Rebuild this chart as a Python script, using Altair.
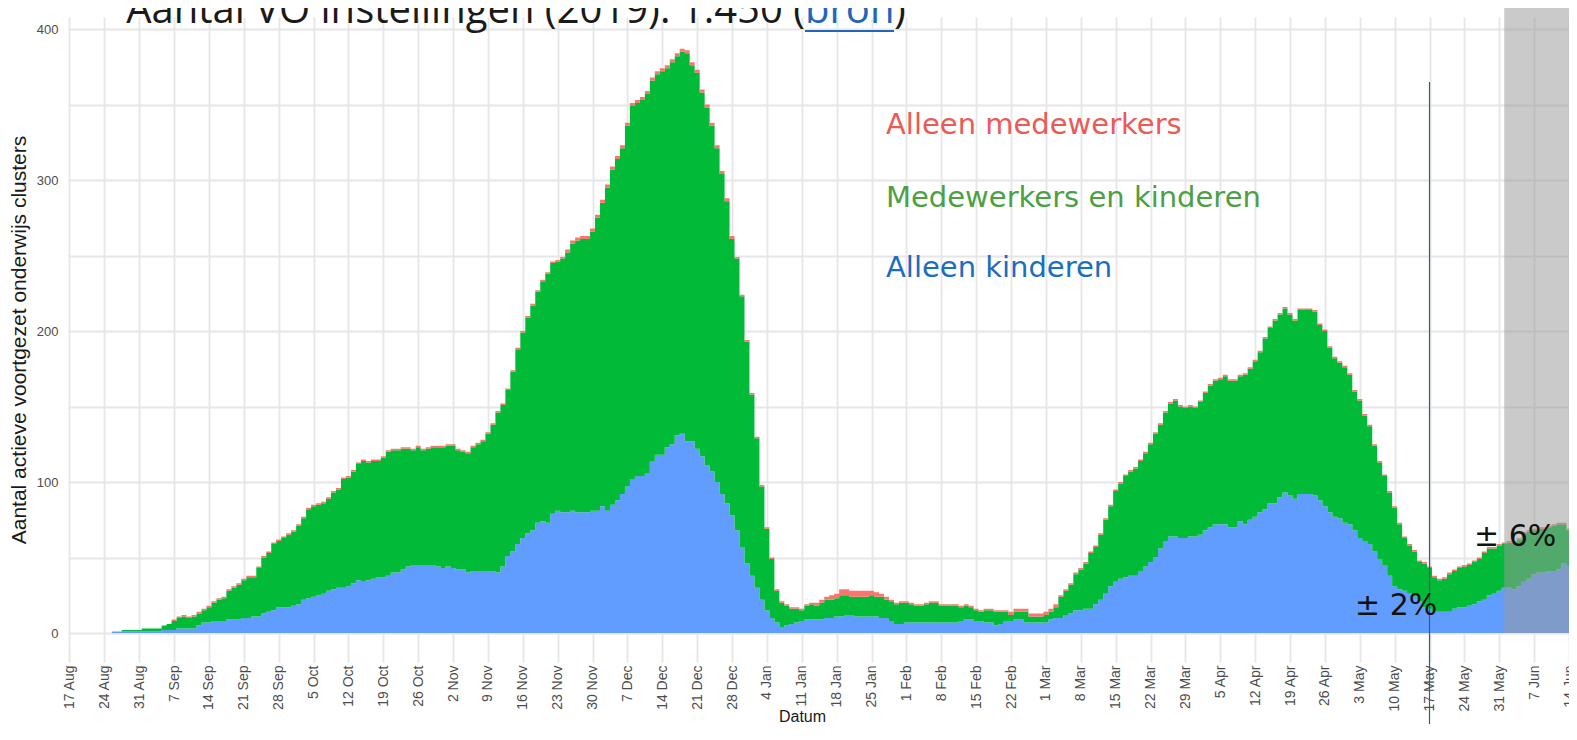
import altair as alt
import pandas as pd

# ---------------- data ----------------
START = "2020-08-26"   # first day with clusters; one value per day

# Alleen kinderen (blue)
kinderen = (
    [1, 1, 1, 1, 1, 1] +                                            # Aug 26-31
    [1, 1, 1, 1, 2, 2, 2, 3, 3, 3, 3, 5, 7, 7, 8, 8, 8, 9, 9, 9,
     10, 10, 11, 11, 13, 14, 15, 17, 17, 17] +                      # Sep
    [18, 19, 22, 23, 24, 25, 26, 28, 29, 30, 30, 31, 33, 35, 34, 35, 36, 37, 37, 38,
     40, 40, 42, 44, 45, 45, 45, 45, 45, 44, 43] +                  # Oct
    [44, 43, 42, 42, 40, 41, 41, 41, 41, 41, 40, 44, 51, 54, 59, 63, 66, 68, 73, 74,
     73, 79, 81, 80, 80, 81, 80, 80, 80, 81] +                      # Nov
    [81, 84, 81, 85, 88, 92, 97, 102, 104, 104, 106, 114, 118, 118, 123, 125, 131, 132, 127, 127,
     122, 117, 111, 107, 100, 92, 86, 78, 68, 57, 46] +             # Dec
    [38, 30, 22, 15, 10, 7, 4, 5, 6, 7, 8, 9, 9, 9, 9, 10, 10, 11, 11, 12,
     12, 11, 11, 11, 11, 11, 10, 10, 8, 6, 6] +                     # Jan
    [7, 7, 7, 7, 7, 7, 7, 7, 7, 7, 7, 8, 9, 9, 8, 8, 7, 7, 5, 6,
     8, 8, 9, 9, 7, 7, 7, 7] +                                      # Feb
    [7, 9, 10, 10, 12, 13, 15, 15, 16, 16, 19, 22, 26, 31, 34, 36, 37, 38, 38, 41,
     44, 47, 50, 56, 61, 64, 64, 63, 63, 64, 64] +                  # Mar
    [65, 68, 70, 72, 72, 72, 70, 70, 74, 72, 75, 77, 80, 82, 86, 86, 90, 93, 91, 89,
     92, 92, 92, 91, 88, 84, 80, 77, 76, 73] +                      # Apr
    [72, 68, 63, 61, 59, 54, 49, 45, 38, 31, 29, 28, 26, 24, 21, 17, 16, 14, 14, 14,
     14, 16, 17, 17, 18, 19, 21, 22, 25, 26, 28] +                  # May
    [30, 30, 29, 31, 34, 36, 39, 40, 40, 41, 41, 42, 46, 44, 40]    # Jun 1-15
)

# Medewerkers en kinderen (green)
beide = (
    [0, 0, 1, 1, 1, 1] +
    [2, 2, 2, 2, 3, 4, 6, 7, 8, 7, 8, 8, 8, 10, 12, 14, 15, 19, 21, 23,
     25, 27, 26, 32, 37, 39, 44, 44, 46, 48] +
    [49, 52, 54, 59, 60, 60, 60, 61, 64, 65, 72, 72, 74, 77, 80, 78, 78, 77, 79, 82,
     81, 81, 80, 78, 76, 78, 76, 77, 78, 79, 80] +
    [80, 81, 79, 78, 79, 82, 84, 86, 91, 97, 106, 107, 110, 119, 129, 136, 143, 149, 153, 159,
     165, 166, 165, 168, 172, 177, 180, 181, 181, 185] +
    [194, 201, 214, 222, 226, 229, 239, 247, 247, 249, 251, 252, 252, 254, 251, 253, 251, 253, 257, 249,
     249, 241, 237, 229, 221, 212, 200, 183, 180, 166, 147] +
    [120, 99, 75, 54, 39, 21, 16, 13, 10, 9, 7, 9, 10, 9, 11, 12, 12, 12, 14, 13,
     12, 13, 13, 13, 14, 13, 14, 12, 13, 13, 14] +
    [13, 12, 11, 11, 12, 13, 13, 11, 11, 11, 11, 9, 9, 8, 7, 6, 8, 8, 9, 8,
     6, 4, 5, 5, 7, 4, 4, 4] +
    [5, 5, 7, 14, 16, 19, 24, 27, 30, 37, 38, 43, 49, 53, 60, 63, 67, 69, 71, 73,
     75, 78, 82, 82, 85, 88, 90, 87, 86, 86, 85] +
    [88, 91, 94, 95, 96, 98, 97, 97, 96, 99, 100, 103, 106, 113, 116, 121, 121, 122, 120, 118,
     122, 122, 122, 122, 116, 116, 109, 105, 103, 103] +
    [99, 92, 91, 83, 78, 70, 64, 59, 55, 52, 43, 35, 32, 30, 26, 29, 27, 23, 21, 22,
     25, 25, 26, 27, 27, 28, 28, 31, 31, 30, 30] +
    [29, 30, 31, 31, 32, 31, 29, 29, 29, 29, 30, 30, 26, 24, 26]
)

# Alleen medewerkers (red)
medewerkers = (
    [0, 0, 0, 0, 0, 0] +
    [0, 0, 0, 0, 0, 0, 1, 1, 1, 1, 1, 1, 1, 1, 1, 1, 1, 1, 1, 1,
     1, 1, 1, 1, 1, 1, 1, 1, 1, 1] +
    [1, 1, 1, 1, 1, 1, 1, 1, 1, 1, 1, 1, 1, 1, 1, 1, 1, 1, 1, 1,
     1, 1, 1, 1, 1, 1, 1, 1, 1, 1, 1] +
    [1, 1, 1, 1, 1, 1, 1, 1, 1, 1, 1, 1, 1, 1, 1, 1, 1, 1, 1, 1,
     1, 1, 1, 1, 2, 2, 2, 2, 2, 2] +
    [2, 2, 2, 2, 2, 2, 2, 2, 2, 2, 2, 2, 2, 2, 2, 2, 2, 2, 2, 2,
     2, 2, 2, 2, 2, 2, 2, 2, 1, 1, 1] +
    [1, 1, 1, 1, 1, 1, 1, 1, 1, 1, 1, 1, 1, 2, 2, 2, 3, 3, 4, 4,
     4, 4, 4, 4, 3, 3, 2, 2, 1, 1, 1] +
    [1, 1, 1, 1, 1, 1, 1, 1, 1, 1, 1, 1, 1, 1, 1, 1, 1, 1, 1, 1,
     1, 2, 2, 2, 2, 2, 2, 2] +
    [2, 2, 2, 1, 1, 1, 1, 1, 1, 1, 1, 1, 1, 1, 1, 1, 1, 1, 1, 1,
     1, 1, 1, 1, 1, 1, 1, 1, 1, 1, 1] +
    [1, 1, 1, 1, 1, 1, 1, 1, 1, 1, 1, 1, 1, 1, 1, 1, 1, 1, 1, 1,
     1, 1, 1, 1, 1, 1, 1, 1, 1, 1] +
    [1, 1, 1, 1, 1, 1, 1, 1, 1, 1, 1, 1, 1, 1, 1, 1, 1, 1, 1, 1,
     1, 1, 1, 1, 1, 1, 1, 1, 1, 1, 1] +
    [1, 1, 1, 1, 1, 1, 1, 1, 1, 1, 1, 1, 1, 1, 1]
)

reeksen = ["Alleen kinderen", "Medewerkers en kinderen", "Alleen medewerkers"]
kleuren = ["#619CFF", "#00BA38", "#F8766D"]

TICK_START = "2020-08-17"   # weekly date ticks (Mondays)
TICK_END = "2021-06-14"

# ---------------- build table ----------------
n = len(kinderen)
assert len(beide) == n and len(medewerkers) == n, (n, len(beide), len(medewerkers))
dagen = pd.date_range(START, periods=n, freq="D")

rows = []
for k, (naam, waarden) in enumerate(zip(reeksen, [kinderen, beide, medewerkers])):
    for d, v in zip(dagen, waarden):
        # each day's bar spans from half a day before to half a day after the date
        rows.append({"x": d - pd.Timedelta(hours=12), "reeks": naam, "k": k, "aantal": v})
df = pd.DataFrame(rows)

ticks = pd.date_range(TICK_START, TICK_END, freq="7D")
tick_vals = [alt.DateTime(year=t.year, month=t.month, date=t.day) for t in ticks]

W, H = 1501, 645
xscale = alt.Scale(domain=[alt.DateTime(year=2020, month=8, date=16, hours=17),
                           alt.DateTime(year=2021, month=6, date=14)])
yscale = alt.Scale(domain=[-19.2, 408], nice=False, zero=False)

GRID = "#E6E6E6"

areas = alt.Chart(df).mark_area(interpolate="step-after", clip=True).encode(
    x=alt.X("x:T", scale=xscale, title="Datum", axis=alt.Axis(
        values=tick_vals, tickCount=100, format="%-d %b", labelAngle=270, labelAlign="right",
        labelBaseline="middle", labelPadding=3, labelFont="Liberation Sans",
        labelFontSize=14, labelColor="#4D4D4D", labelFlush=False, labelOverlap=False,
        ticks=False, domain=False, grid=True, gridColor=GRID, gridWidth=1.8,
        titleFont="Liberation Sans", titleFontSize=16,
        titleFontWeight="normal", titleColor="#1A1A1A", titleX=734, titleY=59,
        titleAlign="center", titleBaseline="alphabetic")),
    y=alt.Y("aantal:Q", stack="zero", scale=yscale,
            title="Aantal actieve voortgezet onderwijs clusters", axis=alt.Axis(
        values=list(range(0, 401, 50)),
        labelExpr="datum.value % 100 === 0 ? datum.label : ''",
        labelFont="Liberation Sans", labelFontSize=13, labelColor="#4D4D4D",
        labelPadding=10, ticks=False, domain=False, grid=True, gridColor=GRID,
        gridWidth=1.8,
        titleFont="Liberation Sans", titleFontSize=21, titleFontWeight="normal",
        titleColor="#1A1A1A", titleAngle=270, titleX=-49, titleY=322.5,
        titleAlign="center", titleBaseline="middle")),
    color=alt.Color("reeks:N", scale=alt.Scale(domain=reeksen, range=kleuren), legend=None),
    order=alt.Order("k:Q"),
)

# grey overlay for the last (incomplete) weeks
grijs = alt.Chart(pd.DataFrame({"van": [pd.Timestamp("2021-06-01")],
                                "tot": [pd.Timestamp("2021-07-01")]})).mark_rect(
    color="#9B9B9B", opacity=0.53, clip=False).encode(
    x=alt.X("van:T", title="Datum"), x2="tot:T", y=alt.value(-9), y2=alt.value(616))

# vertical marker on 17 May
lijn = alt.Chart(pd.DataFrame({"d": [pd.Timestamp("2021-05-17")]})).mark_rule(
    color="#2F5D8A", strokeWidth=1.2).encode(
    x=alt.X("d:T", title="Datum"), y=alt.value(65), y2=alt.value(720))


def tekst(s, x, y, size, color, font, align="left"):
    return alt.Chart(pd.DataFrame({"t": [s]})).mark_text(
        align=align, baseline="alphabetic", font=font, fontSize=size, color=color
    ).encode(x=alt.value(x), y=alt.value(y), text="t:N")


TY = 6  # title baseline (the title is partly cut off at the top, as in the original)
teksten = [
    tekst("Aantal VO instellingen (2019): 1.450 (", 737, TY, 40, "#1A1A1A", "Open Sans", "right"),
    tekst("bron", 737, TY, 40, "#2266BB", "Open Sans"),
    tekst(")", 826, TY, 40, "#1A1A1A", "Open Sans"),
    tekst("Alleen medewerkers", 818, 117, 29, "#EB5A55", "DejaVu Sans"),
    tekst("Medewerkers en kinderen", 818, 190, 29, "#4CA043", "DejaVu Sans"),
    tekst("Alleen kinderen", 818, 260, 29, "#1A6EBE", "DejaVu Sans"),
    tekst("± 2%", 1287, 598, 30, "#111111", "DejaVu Sans"),
    tekst("± 6%", 1406, 529, 30, "#111111", "DejaVu Sans"),
]

onderstreep = alt.Chart(pd.DataFrame({"t": [1]})).mark_rule(
    color="#2266BB", strokeWidth=2).encode(
    x=alt.value(737), x2=alt.value(826), y=alt.value(TY + 8))

chart = alt.layer(areas, grijs, lijn, onderstreep, *teksten).properties(
    width=W, height=H,
    padding={"left": 60, "top": 9, "right": 0, "bottom": 62},
    autosize=alt.AutoSizeParams(type="none"),
).configure_view(stroke=None)

chart.save("out.html", embed_options={"renderer": "svg", "actions": False})
